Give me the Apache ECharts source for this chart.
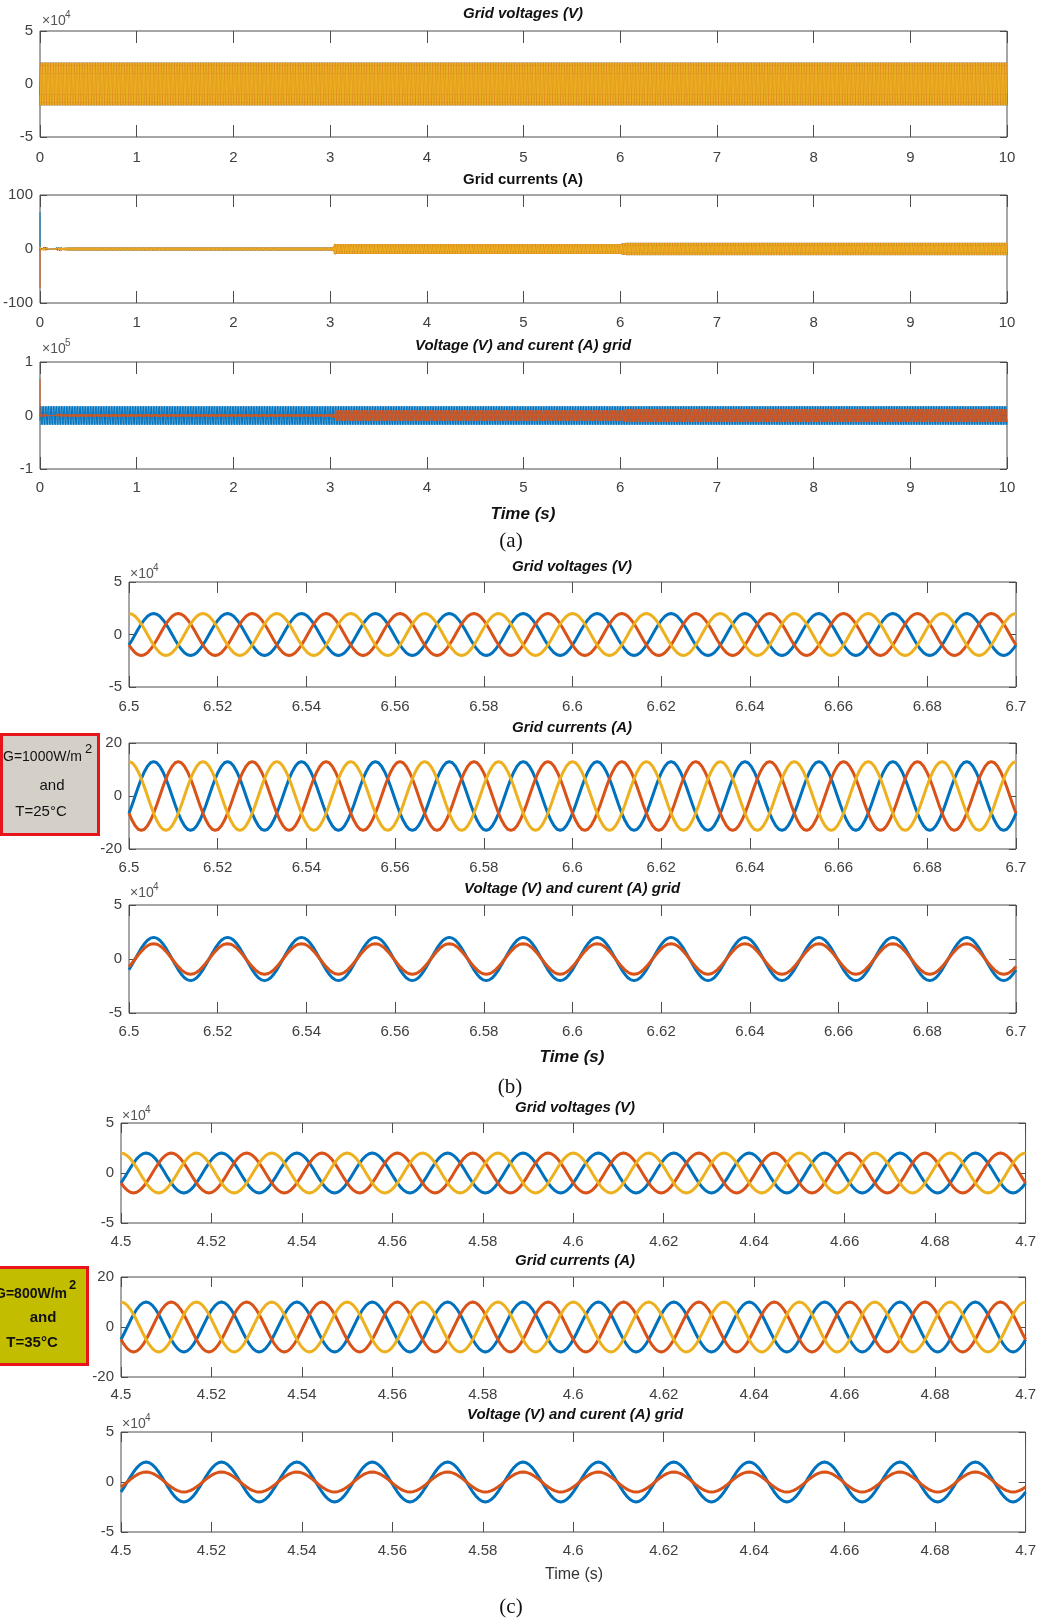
<!DOCTYPE html>
<html>
<head>
<meta charset="utf-8">
<script src="https://cdn.jsdelivr.net/npm/echarts@6/dist/echarts.min.js"></script>
<style>
  html, body { margin: 0; padding: 0; background: #fff; }
  #chart { width: 1039px; height: 1620px; }
</style>
</head>
<body>
<div id="chart"></div>
<script>
// ---- data -------------------------------------------------------------
// network frequency, Hz
const FREQ_HZ = 60;
// one period of the normalised phase waveform, one sample every 15°
const cycleShape = [0, 0.2588, 0.5, 0.7071, 0.866, 0.9659, 1, 0.9659, 0.866, 0.7071, 0.5, 0.2588,
                    0, -0.2588, -0.5, -0.7071, -0.866, -0.9659, -1, -0.9659, -0.866, -0.7071, -0.5, -0.2588];
// phase of lines A, B, C at the start of each window (in 15° steps: -30°, -150°, +90°)
const phaseStep = [22, 14, 6];

// (a) whole run, 0–10 s: peak envelopes
const spanA = [0, 10];
const voltEnvT = [0, 10];
const voltEnvA = [20000, 20000];
const currEnvT = [0, 0.05, 0.1, 0.3, 3.0, 3.06, 6.0, 6.06, 10];
const currEnvA = [4, 3.5, 1.5, 5, 5, 10.5, 10.5, 13, 13];
const viCurrEnvT = [0, 0.05, 0.1, 0.3, 3.0, 3.06, 6.0, 6.06, 10];
const viCurrEnvA = [4000, 3500, 1500, 5000, 5000, 10000, 10000, 14000, 14000];
// switching-on spike at t = 0 (lines A, B, C) and on the scaled current trace
const inrushCurr = [68, -72, 0];
const inrushVI = 68000;

// (b) 6.5–6.7 s, G = 1000 W/m², T = 25 °C
const spanB = [6.5, 6.7];
const voltPeakB = 20000;
const currPeakB = 13;
const viCurrPeakB = 14200;

// (c) 4.5–4.7 s, G = 800 W/m², T = 35 °C
const spanC = [4.5, 4.7];
const voltPeakC = 20000;
const currPeakC = 10;
const viCurrPeakC = 10000;

// tick values
const ticksA = [0, 1, 2, 3, 4, 5, 6, 7, 8, 9, 10];
const ticksB = [6.5, 6.52, 6.54, 6.56, 6.58, 6.6, 6.62, 6.64, 6.66, 6.68, 6.7];
const ticksC = [4.5, 4.52, 4.54, 4.56, 4.58, 4.6, 4.62, 4.64, 4.66, 4.68, 4.7];
const voltTicks = [-50000, 0, 50000];
const currTicksA = [-100, 0, 100];
const viTicksA = [-100000, 0, 100000];
const currTicksZoom = [-20, 0, 20];
const viTicksZoom = [-50000, 0, 50000];

// ---- helpers ------------------------------------------------------------
const COLORS = ['#0072BD', '#D95319', '#EDB120'];
const AXIS = '#4d4d4d';
const NARROW = '"Liberation Sans Narrow", "Liberation Sans", Arial, sans-serif';
const SANS = '"Liberation Sans", Arial, sans-serif';

function envelope(T, A) {
  return function (t) {
    if (t <= T[0]) return A[0];
    for (let i = 1; i < T.length; i++) {
      if (t <= T[i]) {
        const f = (t - T[i - 1]) / (T[i] - T[i - 1]);
        return A[i - 1] + f * (A[i] - A[i - 1]);
      }
    }
    return A[A.length - 1];
  };
}

// repeat the measured cycle across a window with the given phase and amplitude
function wave(span, phase, amp, stride) {
  const ampAt = typeof amp === 'function' ? amp : () => amp;
  const n = cycleShape.length;
  const dt = 1 / (FREQ_HZ * n);
  const steps = Math.round((span[1] - span[0]) / dt);
  const pts = [];
  for (let k = 0; k <= steps; k += stride) {
    const t = span[0] + k * dt;
    pts.push([t, ampAt(t) * cycleShape[(k + phase) % n]]);
  }
  return pts;
}

const grids = [];
const xAxes = [];
const yAxes = [];
const series = [];

function addPanel(box, xt, yt, yDiv, labelMargin, tickLen) {
  const gi = grids.length;
  grids.push({
    left: box[0], top: box[1], width: box[2], height: box[3],
    show: true, borderColor: AXIS, borderWidth: 1, backgroundColor: '#fff'
  });
  const step = +(xt[1] - xt[0]).toFixed(10);
  const xBase = {
    type: 'value', gridIndex: gi, min: xt[0], max: xt[xt.length - 1], interval: step,
    splitLine: { show: false }, axisLine: { show: false, onZero: false }
  };
  const label = { color: '#404040', fontFamily: NARROW, fontSize: 15 };
  xAxes.push(Object.assign({}, xBase, {
    position: 'bottom',
    axisTick: { inside: true, length: tickLen, lineStyle: { color: AXIS } },
    axisLabel: Object.assign({}, label, { margin: labelMargin, formatter: v => String(+v.toFixed(2)) })
  }));
  xAxes.push(Object.assign({}, xBase, {
    position: 'top',
    axisTick: { inside: true, length: tickLen, lineStyle: { color: AXIS } },
    axisLabel: { show: false }
  }));
  const yBase = {
    type: 'value', gridIndex: gi, min: yt[0], max: yt[yt.length - 1], interval: yt[1] - yt[0],
    splitLine: { show: false }, axisLine: { show: false, onZero: false }
  };
  yAxes.push(Object.assign({}, yBase, {
    position: 'left',
    axisTick: { inside: true, length: 7, lineStyle: { color: AXIS } },
    axisLabel: Object.assign({}, label, { margin: 7, formatter: v => String(+(v / yDiv).toFixed(3)) })
  }));
  yAxes.push(Object.assign({}, yBase, {
    position: 'right',
    axisTick: { inside: true, length: 7, lineStyle: { color: AXIS } },
    axisLabel: { show: false }
  }));
  return gi;
}

function addLine(gi, data, colorIdx, width) {
  series.push({
    type: 'line', xAxisIndex: 2 * gi, yAxisIndex: 2 * gi, data: data,
    showSymbol: false, symbol: 'none', silent: true, animation: false, clip: true,
    lineStyle: { width: width, color: COLORS[colorIdx] },
    itemStyle: { color: COLORS[colorIdx] }
  });
}

// ---- (a) full run -------------------------------------------------------
const gA1 = addPanel([40, 31, 967, 106], ticksA, voltTicks, 1e4, 13, 12);
const gA2 = addPanel([40, 195, 967, 108], ticksA, currTicksA, 1, 12, 12);
const gA3 = addPanel([40, 362, 967, 107], ticksA, viTicksA, 1e5, 11, 12);
const voltEnv = envelope(voltEnvT, voltEnvA);
const currEnv = envelope(currEnvT, currEnvA);
const viEnv = envelope(viCurrEnvT, viCurrEnvA);
for (let p = 0; p < 3; p++) addLine(gA1, wave(spanA, phaseStep[p], voltEnv, 2), p, 1);
for (let p = 0; p < 3; p++) {
  addLine(gA2, [[0, inrushCurr[p]]].concat(wave(spanA, phaseStep[p], currEnv, 2)), p, 1);
}
addLine(gA3, wave(spanA, phaseStep[0], voltEnv, 2), 0, 1);
addLine(gA3, [[0, inrushVI]].concat(wave(spanA, phaseStep[0], viEnv, 2)), 1, 1);

// ---- (b) 6.5–6.7 s ------------------------------------------------------
const gB1 = addPanel([129, 582, 887, 105], ticksB, voltTicks, 1e4, 12, 11);
const gB2 = addPanel([129, 743, 887, 106], ticksB, currTicksZoom, 1, 11, 11);
const gB3 = addPanel([129, 905, 887, 108], ticksB, viTicksZoom, 1e4, 11, 11);
for (let p = 0; p < 3; p++) addLine(gB1, wave(spanB, phaseStep[p], voltPeakB, 1), p, 3);
for (let p = 0; p < 3; p++) addLine(gB2, wave(spanB, phaseStep[p], currPeakB, 1), p, 3);
addLine(gB3, wave(spanB, phaseStep[0], voltPeakB, 1), 0, 3);
addLine(gB3, wave(spanB, phaseStep[0], viCurrPeakB, 1), 1, 3);

// ---- (c) 4.5–4.7 s ------------------------------------------------------
const gC1 = addPanel([121, 1123, 909, 100], ticksC, voltTicks, 1e4, 11, 10);
const gC2 = addPanel([121, 1277, 909, 100], ticksC, currTicksZoom, 1, 10, 10);
const gC3 = addPanel([121, 1432, 909, 100], ticksC, viTicksZoom, 1e4, 11, 10);
for (let p = 0; p < 3; p++) addLine(gC1, wave(spanC, phaseStep[p], voltPeakC, 1), p, 3);
for (let p = 0; p < 3; p++) addLine(gC2, wave(spanC, phaseStep[p], currPeakC, 1), p, 3);
addLine(gC3, wave(spanC, phaseStep[0], voltPeakC, 1), 0, 3);
addLine(gC3, wave(spanC, phaseStep[0], viCurrPeakC, 1), 1, 3);

// ---- text and annotation boxes -----------------------------------------
function txt(text, x, y, font, opts) {
  const o = opts || {};
  return {
    type: 'text', x: x, y: y, silent: true, z: 100,
    style: {
      text: text, font: font, fill: o.fill || '#111',
      textAlign: o.align || 'center', textVerticalAlign: 'middle',
      align: o.align || 'center', verticalAlign: 'middle'
    }
  };
}
const titleFont = 'italic bold 15px ' + NARROW;
const titleFontUp = 'bold 15px ' + NARROW;
const expFont = '14px ' + NARROW;
const supFont = '10px ' + NARROW;

function exponent(x, y, power) {
  return [
    txt('\u00d710', x, y, expFont, { align: 'left', fill: '#555' }),
    txt(String(power), x + 23, y - 6, supFont, { align: 'left', fill: '#555' })
  ];
}

const graphics = [
  // (a)
  txt('Grid voltages (V)', 523, 14, titleFont),
  txt('Grid currents (A)', 523, 180, titleFontUp),
  txt('Voltage (V) and curent (A) grid', 523, 346, titleFont),
  ...exponent(42, 21, 4),
  ...exponent(42, 349, 5),
  txt('Time (s)', 523, 514, 'italic bold 17px ' + NARROW),
  txt('(a)', 511, 541, '21px "Liberation Serif", "Times New Roman", serif'),
  // (b)
  txt('Grid voltages (V)', 572, 567, titleFont),
  txt('Grid currents (A)', 572, 728, titleFont),
  txt('Voltage (V) and curent (A) grid', 572, 889, titleFont),
  ...exponent(130, 574, 4),
  ...exponent(130, 893, 4),
  txt('Time (s)', 572, 1057, 'italic bold 17px ' + NARROW),
  txt('(b)', 510, 1087, '21px "Liberation Serif", "Times New Roman", serif'),
  // (c)
  txt('Grid voltages (V)', 575, 1108, titleFont),
  txt('Grid currents (A)', 575, 1261, titleFont),
  txt('Voltage (V) and curent (A) grid', 575, 1415, titleFont),
  ...exponent(122, 1116, 4),
  ...exponent(122, 1424, 4),
  txt('Time (s)', 574, 1575, '16px ' + NARROW, { fill: '#333' }),
  txt('(c)', 511, 1607, '21px "Liberation Serif", "Times New Roman", serif'),
  // operating-point boxes
  {
    type: 'rect', silent: true, z: 90,
    shape: { x: 1.5, y: 734.5, width: 97, height: 100 },
    style: { fill: '#d4d0c8', stroke: '#e8141c', lineWidth: 3 }
  },
  txt('G=1000W/m', 3, 757, '14px ' + SANS, { align: 'left' }),
  txt('2', 85, 749, '13px ' + SANS, { align: 'left' }),
  txt('and', 52, 786, '15px ' + SANS),
  txt('T=25\u00b0C', 41, 812, '15px ' + SANS),
  {
    type: 'rect', silent: true, z: 90,
    shape: { x: -10, y: 1267.5, width: 97.5, height: 97 },
    style: { fill: '#c3bd00', stroke: '#e8141c', lineWidth: 3 }
  },
  txt('G=800W/m', 67, 1294, 'bold 14px ' + SANS, { align: 'right' }),
  txt('2', 69, 1285, 'bold 13px ' + SANS, { align: 'left' }),
  txt('and', 43, 1318, 'bold 15px ' + SANS),
  txt('T=35\u00b0C', 32, 1343, 'bold 15px ' + SANS)
];

const chart = echarts.init(document.getElementById('chart'), null, { renderer: 'canvas' });
chart.setOption({
  animation: false,
  backgroundColor: '#fff',
  grid: grids,
  xAxis: xAxes,
  yAxis: yAxes,
  series: series,
  graphic: graphics
});
</script>
</body>
</html>
